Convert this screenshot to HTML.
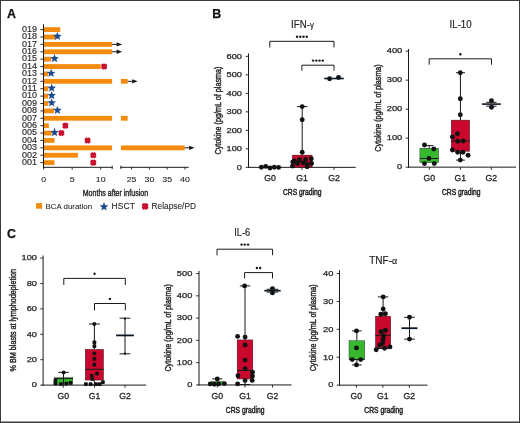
<!DOCTYPE html>
<html><head><meta charset="utf-8"><style>
html,body{margin:0;padding:0;background:#fff;}
svg{display:block;font-family:"Liberation Sans",sans-serif;filter:blur(0.3px);}
</style></head><body>
<svg width="520" height="423" viewBox="0 0 520 423">
<rect x="0" y="0" width="520" height="423" fill="#fff"/>
<text x="7.10" y="17.80" font-size="12.4" text-anchor="start" font-weight="bold" fill="#111" stroke="#111" stroke-width="0.25" >A</text>
<text x="37.00" y="31.90" font-size="8.2" text-anchor="end" font-weight="normal" fill="#2a2a2a" stroke="#2a2a2a" stroke-width="0.15" textLength="15" lengthAdjust="spacingAndGlyphs" >019</text>
<line x1="40.30" y1="29.60" x2="43.50" y2="29.60" stroke="#1a1a1a" stroke-width="0.9"/>
<rect x="43.9" y="27.20" width="16.33" height="4.8" fill="#f48b0c"/>
<text x="37.00" y="39.29" font-size="8.2" text-anchor="end" font-weight="normal" fill="#2a2a2a" stroke="#2a2a2a" stroke-width="0.15" textLength="15" lengthAdjust="spacingAndGlyphs" >018</text>
<line x1="40.30" y1="36.99" x2="43.50" y2="36.99" stroke="#1a1a1a" stroke-width="0.9"/>
<rect x="43.9" y="34.59" width="11.77" height="4.8" fill="#f48b0c"/>
<polygon points="57.38,31.79 58.53,34.81 61.75,34.97 59.23,36.99 60.08,40.11 57.38,38.34 54.68,40.11 55.53,36.99 53.01,34.97 56.23,34.81" fill="#1b4a8e"/>
<text x="37.00" y="46.68" font-size="8.2" text-anchor="end" font-weight="normal" fill="#2a2a2a" stroke="#2a2a2a" stroke-width="0.15" textLength="15" lengthAdjust="spacingAndGlyphs" >017</text>
<line x1="40.30" y1="44.38" x2="43.50" y2="44.38" stroke="#1a1a1a" stroke-width="0.9"/>
<rect x="43.9" y="41.98" width="68.20" height="4.8" fill="#f48b0c"/>
<line x1="112.10" y1="44.38" x2="118.10" y2="44.38" stroke="#1a1a1a" stroke-width="1"/>
<polygon points="116.60,42.18 122.10,44.38 116.60,46.58" fill="#1a1a1a"/>
<text x="37.00" y="54.07" font-size="8.2" text-anchor="end" font-weight="normal" fill="#2a2a2a" stroke="#2a2a2a" stroke-width="0.15" textLength="15" lengthAdjust="spacingAndGlyphs" >016</text>
<line x1="40.30" y1="51.77" x2="43.50" y2="51.77" stroke="#1a1a1a" stroke-width="0.9"/>
<rect x="43.9" y="49.37" width="68.20" height="4.8" fill="#f48b0c"/>
<line x1="112.10" y1="51.77" x2="118.10" y2="51.77" stroke="#1a1a1a" stroke-width="1"/>
<polygon points="116.60,49.57 122.10,51.77 116.60,53.97" fill="#1a1a1a"/>
<text x="37.00" y="61.46" font-size="8.2" text-anchor="end" font-weight="normal" fill="#2a2a2a" stroke="#2a2a2a" stroke-width="0.15" textLength="15" lengthAdjust="spacingAndGlyphs" >015</text>
<line x1="40.30" y1="59.16" x2="43.50" y2="59.16" stroke="#1a1a1a" stroke-width="0.9"/>
<rect x="43.9" y="56.76" width="7.21" height="4.8" fill="#f48b0c"/>
<polygon points="54.53,53.96 55.68,56.98 58.90,57.14 56.38,59.16 57.23,62.28 54.53,60.51 51.83,62.28 52.68,59.16 50.16,57.14 53.38,56.98" fill="#1b4a8e"/>
<text x="37.00" y="68.85" font-size="8.2" text-anchor="end" font-weight="normal" fill="#2a2a2a" stroke="#2a2a2a" stroke-width="0.15" textLength="15" lengthAdjust="spacingAndGlyphs" >014</text>
<line x1="40.30" y1="66.55" x2="43.50" y2="66.55" stroke="#1a1a1a" stroke-width="0.9"/>
<rect x="43.9" y="64.15" width="56.80" height="4.8" fill="#f48b0c"/>
<g transform="translate(104.12,66.55) rotate(45)"><rect x="-3.22" y="-1.66" width="6.44" height="3.31" rx="0.9" fill="#c8102e"/><rect x="-1.66" y="-3.22" width="3.31" height="6.44" rx="0.9" fill="#c8102e"/></g>
<text x="37.00" y="76.24" font-size="8.2" text-anchor="end" font-weight="normal" fill="#2a2a2a" stroke="#2a2a2a" stroke-width="0.15" textLength="15" lengthAdjust="spacingAndGlyphs" >013</text>
<line x1="40.30" y1="73.94" x2="43.50" y2="73.94" stroke="#1a1a1a" stroke-width="0.9"/>
<rect x="43.9" y="71.54" width="4.36" height="4.8" fill="#f48b0c"/>
<polygon points="51.11,68.74 52.26,71.76 55.48,71.92 52.96,73.94 53.81,77.06 51.11,75.29 48.41,77.06 49.26,73.94 46.74,71.92 49.96,71.76" fill="#1b4a8e"/>
<text x="37.00" y="83.63" font-size="8.2" text-anchor="end" font-weight="normal" fill="#2a2a2a" stroke="#2a2a2a" stroke-width="0.15" textLength="15" lengthAdjust="spacingAndGlyphs" >012</text>
<line x1="40.30" y1="81.33" x2="43.50" y2="81.33" stroke="#1a1a1a" stroke-width="0.9"/>
<rect x="43.9" y="78.93" width="68.20" height="4.8" fill="#f48b0c"/>
<rect x="120.92" y="78.93" width="6.76" height="4.8" fill="#f48b0c"/>
<line x1="127.68" y1="81.33" x2="133.68" y2="81.33" stroke="#1a1a1a" stroke-width="1"/>
<polygon points="132.18,79.13 137.68,81.33 132.18,83.53" fill="#1a1a1a"/>
<text x="37.00" y="91.02" font-size="8.2" text-anchor="end" font-weight="normal" fill="#2a2a2a" stroke="#2a2a2a" stroke-width="0.15" textLength="15" lengthAdjust="spacingAndGlyphs" >011</text>
<line x1="40.30" y1="88.72" x2="43.50" y2="88.72" stroke="#1a1a1a" stroke-width="0.9"/>
<rect x="43.9" y="86.32" width="4.36" height="4.8" fill="#f48b0c"/>
<polygon points="51.68,83.52 52.83,86.54 56.05,86.70 53.53,88.72 54.38,91.84 51.68,90.07 48.98,91.84 49.83,88.72 47.31,86.70 50.53,86.54" fill="#1b4a8e"/>
<text x="37.00" y="98.41" font-size="8.2" text-anchor="end" font-weight="normal" fill="#2a2a2a" stroke="#2a2a2a" stroke-width="0.15" textLength="15" lengthAdjust="spacingAndGlyphs" >010</text>
<line x1="40.30" y1="96.11" x2="43.50" y2="96.11" stroke="#1a1a1a" stroke-width="0.9"/>
<rect x="43.9" y="93.71" width="4.36" height="4.8" fill="#f48b0c"/>
<polygon points="51.68,90.91 52.83,93.93 56.05,94.09 53.53,96.11 54.38,99.23 51.68,97.46 48.98,99.23 49.83,96.11 47.31,94.09 50.53,93.93" fill="#1b4a8e"/>
<text x="37.00" y="105.80" font-size="8.2" text-anchor="end" font-weight="normal" fill="#2a2a2a" stroke="#2a2a2a" stroke-width="0.15" textLength="15" lengthAdjust="spacingAndGlyphs" >009</text>
<line x1="40.30" y1="103.50" x2="43.50" y2="103.50" stroke="#1a1a1a" stroke-width="0.9"/>
<rect x="43.9" y="101.10" width="4.36" height="4.8" fill="#f48b0c"/>
<polygon points="51.68,98.30 52.83,101.32 56.05,101.48 53.53,103.50 54.38,106.62 51.68,104.85 48.98,106.62 49.83,103.50 47.31,101.48 50.53,101.32" fill="#1b4a8e"/>
<text x="37.00" y="113.19" font-size="8.2" text-anchor="end" font-weight="normal" fill="#2a2a2a" stroke="#2a2a2a" stroke-width="0.15" textLength="15" lengthAdjust="spacingAndGlyphs" >008</text>
<line x1="40.30" y1="110.89" x2="43.50" y2="110.89" stroke="#1a1a1a" stroke-width="0.9"/>
<rect x="43.9" y="108.49" width="10.06" height="4.8" fill="#f48b0c"/>
<polygon points="57.38,105.69 58.53,108.71 61.75,108.87 59.23,110.89 60.08,114.01 57.38,112.24 54.68,114.01 55.53,110.89 53.01,108.87 56.23,108.71" fill="#1b4a8e"/>
<text x="37.00" y="120.58" font-size="8.2" text-anchor="end" font-weight="normal" fill="#2a2a2a" stroke="#2a2a2a" stroke-width="0.15" textLength="15" lengthAdjust="spacingAndGlyphs" >007</text>
<line x1="40.30" y1="118.28" x2="43.50" y2="118.28" stroke="#1a1a1a" stroke-width="0.9"/>
<rect x="43.9" y="115.88" width="68.20" height="4.8" fill="#f48b0c"/>
<rect x="120.92" y="115.88" width="6.76" height="4.8" fill="#f48b0c"/>
<text x="37.00" y="127.97" font-size="8.2" text-anchor="end" font-weight="normal" fill="#2a2a2a" stroke="#2a2a2a" stroke-width="0.15" textLength="15" lengthAdjust="spacingAndGlyphs" >006</text>
<line x1="40.30" y1="125.67" x2="43.50" y2="125.67" stroke="#1a1a1a" stroke-width="0.9"/>
<rect x="43.9" y="123.27" width="4.93" height="4.8" fill="#f48b0c"/>
<g transform="translate(65.36,125.67) rotate(45)"><rect x="-3.22" y="-1.66" width="6.44" height="3.31" rx="0.9" fill="#c8102e"/><rect x="-1.66" y="-3.22" width="3.31" height="6.44" rx="0.9" fill="#c8102e"/></g>
<text x="37.00" y="135.36" font-size="8.2" text-anchor="end" font-weight="normal" fill="#2a2a2a" stroke="#2a2a2a" stroke-width="0.15" textLength="15" lengthAdjust="spacingAndGlyphs" >005</text>
<line x1="40.30" y1="133.06" x2="43.50" y2="133.06" stroke="#1a1a1a" stroke-width="0.9"/>
<rect x="43.9" y="130.66" width="7.78" height="4.8" fill="#f48b0c"/>
<polygon points="54.53,127.86 55.68,130.88 58.90,131.04 56.38,133.06 57.23,136.18 54.53,134.41 51.83,136.18 52.68,133.06 50.16,131.04 53.38,130.88" fill="#1b4a8e"/>
<g transform="translate(61.37,133.06) rotate(45)"><rect x="-3.22" y="-1.66" width="6.44" height="3.31" rx="0.9" fill="#c8102e"/><rect x="-1.66" y="-3.22" width="3.31" height="6.44" rx="0.9" fill="#c8102e"/></g>
<text x="37.00" y="142.75" font-size="8.2" text-anchor="end" font-weight="normal" fill="#2a2a2a" stroke="#2a2a2a" stroke-width="0.15" textLength="15" lengthAdjust="spacingAndGlyphs" >004</text>
<line x1="40.30" y1="140.45" x2="43.50" y2="140.45" stroke="#1a1a1a" stroke-width="0.9"/>
<rect x="43.9" y="138.05" width="10.63" height="4.8" fill="#f48b0c"/>
<g transform="translate(87.59,140.45) rotate(45)"><rect x="-3.22" y="-1.66" width="6.44" height="3.31" rx="0.9" fill="#c8102e"/><rect x="-1.66" y="-3.22" width="3.31" height="6.44" rx="0.9" fill="#c8102e"/></g>
<text x="37.00" y="150.14" font-size="8.2" text-anchor="end" font-weight="normal" fill="#2a2a2a" stroke="#2a2a2a" stroke-width="0.15" textLength="15" lengthAdjust="spacingAndGlyphs" >003</text>
<line x1="40.30" y1="147.84" x2="43.50" y2="147.84" stroke="#1a1a1a" stroke-width="0.9"/>
<rect x="43.9" y="145.44" width="68.20" height="4.8" fill="#f48b0c"/>
<rect x="120.92" y="145.44" width="63.72" height="4.8" fill="#f48b0c"/>
<line x1="184.64" y1="147.84" x2="190.64" y2="147.84" stroke="#1a1a1a" stroke-width="1"/>
<polygon points="189.14,145.64 194.64,147.84 189.14,150.04" fill="#1a1a1a"/>
<text x="37.00" y="157.53" font-size="8.2" text-anchor="end" font-weight="normal" fill="#2a2a2a" stroke="#2a2a2a" stroke-width="0.15" textLength="15" lengthAdjust="spacingAndGlyphs" >002</text>
<line x1="40.30" y1="155.23" x2="43.50" y2="155.23" stroke="#1a1a1a" stroke-width="0.9"/>
<rect x="43.9" y="152.83" width="34.00" height="4.8" fill="#f48b0c"/>
<g transform="translate(93.29,155.23) rotate(45)"><rect x="-3.22" y="-1.66" width="6.44" height="3.31" rx="0.9" fill="#c8102e"/><rect x="-1.66" y="-3.22" width="3.31" height="6.44" rx="0.9" fill="#c8102e"/></g>
<text x="37.00" y="164.92" font-size="8.2" text-anchor="end" font-weight="normal" fill="#2a2a2a" stroke="#2a2a2a" stroke-width="0.15" textLength="15" lengthAdjust="spacingAndGlyphs" >001</text>
<line x1="40.30" y1="162.62" x2="43.50" y2="162.62" stroke="#1a1a1a" stroke-width="0.9"/>
<rect x="43.9" y="160.22" width="10.63" height="4.8" fill="#f48b0c"/>
<g transform="translate(93.29,162.62) rotate(45)"><rect x="-3.22" y="-1.66" width="6.44" height="3.31" rx="0.9" fill="#c8102e"/><rect x="-1.66" y="-3.22" width="3.31" height="6.44" rx="0.9" fill="#c8102e"/></g>
<line x1="43.50" y1="24.20" x2="43.50" y2="167.70" stroke="#1a1a1a" stroke-width="1"/>
<line x1="43.00" y1="167.30" x2="112.60" y2="167.30" stroke="#1a1a1a" stroke-width="1"/>
<line x1="120.40" y1="167.30" x2="188.70" y2="167.30" stroke="#1a1a1a" stroke-width="1"/>
<line x1="112.20" y1="165.70" x2="112.20" y2="169.10" stroke="#1a1a1a" stroke-width="0.9"/>
<line x1="120.90" y1="165.70" x2="120.90" y2="169.10" stroke="#1a1a1a" stroke-width="0.9"/>
<line x1="43.70" y1="167.30" x2="43.70" y2="169.60" stroke="#1a1a1a" stroke-width="0.9"/>
<text x="43.70" y="182.00" font-size="7.2" text-anchor="middle" font-weight="normal" fill="#262626" stroke="#262626" stroke-width="0.1" textLength="4.9" lengthAdjust="spacingAndGlyphs" >0</text>
<line x1="72.20" y1="167.30" x2="72.20" y2="169.60" stroke="#1a1a1a" stroke-width="0.9"/>
<text x="72.20" y="182.00" font-size="7.2" text-anchor="middle" font-weight="normal" fill="#262626" stroke="#262626" stroke-width="0.1" textLength="4.9" lengthAdjust="spacingAndGlyphs" >5</text>
<line x1="100.70" y1="167.30" x2="100.70" y2="169.60" stroke="#1a1a1a" stroke-width="0.9"/>
<text x="100.70" y="182.00" font-size="7.2" text-anchor="middle" font-weight="normal" fill="#262626" stroke="#262626" stroke-width="0.1" textLength="9.8" lengthAdjust="spacingAndGlyphs" >10</text>
<line x1="131.60" y1="167.30" x2="131.60" y2="169.60" stroke="#1a1a1a" stroke-width="0.9"/>
<text x="131.60" y="182.00" font-size="7.2" text-anchor="middle" font-weight="normal" fill="#262626" stroke="#262626" stroke-width="0.1" textLength="9.8" lengthAdjust="spacingAndGlyphs" >25</text>
<line x1="149.40" y1="167.30" x2="149.40" y2="169.60" stroke="#1a1a1a" stroke-width="0.9"/>
<text x="149.40" y="182.00" font-size="7.2" text-anchor="middle" font-weight="normal" fill="#262626" stroke="#262626" stroke-width="0.1" textLength="9.8" lengthAdjust="spacingAndGlyphs" >30</text>
<line x1="167.20" y1="167.30" x2="167.20" y2="169.60" stroke="#1a1a1a" stroke-width="0.9"/>
<text x="167.20" y="182.00" font-size="7.2" text-anchor="middle" font-weight="normal" fill="#262626" stroke="#262626" stroke-width="0.1" textLength="9.8" lengthAdjust="spacingAndGlyphs" >35</text>
<line x1="185.00" y1="167.30" x2="185.00" y2="169.60" stroke="#1a1a1a" stroke-width="0.9"/>
<text x="185.00" y="182.00" font-size="7.2" text-anchor="middle" font-weight="normal" fill="#262626" stroke="#262626" stroke-width="0.1" textLength="9.8" lengthAdjust="spacingAndGlyphs" >40</text>
<text x="115.40" y="195.60" font-size="9.0" text-anchor="middle" font-weight="normal" fill="#262626" stroke="#262626" stroke-width="0.4" textLength="65.3" lengthAdjust="spacingAndGlyphs" >Months after infusion</text>
<rect x="36.1" y="203.1" width="6" height="5.6" fill="#f48b0c"/>
<text x="45.60" y="208.90" font-size="8.0" text-anchor="start" font-weight="normal" fill="#262626" stroke="#262626" stroke-width="0.08" textLength="46.5" lengthAdjust="spacingAndGlyphs" >BCA duration</text>
<polygon points="104.00,202.10 105.15,205.22 108.47,205.35 105.85,207.40 106.76,210.60 104.00,208.75 101.24,210.60 102.15,207.40 99.53,205.35 102.85,205.22" fill="#1b4a8e"/>
<text x="111.60" y="208.90" font-size="8.2" text-anchor="start" font-weight="normal" fill="#262626" stroke="#262626" stroke-width="0.08" textLength="23.3" lengthAdjust="spacingAndGlyphs" >HSCT</text>
<g transform="translate(145.10,206.40) rotate(45)"><rect x="-3.50" y="-1.80" width="7.00" height="3.60" rx="0.9" fill="#c8102e"/><rect x="-1.80" y="-3.50" width="3.60" height="7.00" rx="0.9" fill="#c8102e"/></g>
<text x="151.60" y="208.90" font-size="8.2" text-anchor="start" font-weight="normal" fill="#262626" stroke="#262626" stroke-width="0.08" textLength="44.4" lengthAdjust="spacingAndGlyphs" >Relapse/PD</text>
<text x="212.20" y="17.80" font-size="12.4" text-anchor="start" font-weight="bold" fill="#111" stroke="#111" stroke-width="0.25" >B</text>
<text x="7.00" y="237.70" font-size="12.4" text-anchor="start" font-weight="bold" fill="#111" stroke="#111" stroke-width="0.25" >C</text>
<line x1="248.50" y1="53.50" x2="248.50" y2="167.85" stroke="#1a1a1a" stroke-width="1"/>
<line x1="245.70" y1="167.35" x2="248.50" y2="167.35" stroke="#1a1a1a" stroke-width="0.9"/>
<text x="242.00" y="169.65" font-size="7.1" text-anchor="end" font-weight="normal" fill="#262626" stroke="#262626" stroke-width="0.25" textLength="5.15" lengthAdjust="spacingAndGlyphs" >0</text>
<line x1="245.70" y1="148.85" x2="248.50" y2="148.85" stroke="#1a1a1a" stroke-width="0.9"/>
<text x="242.00" y="151.15" font-size="7.1" text-anchor="end" font-weight="normal" fill="#262626" stroke="#262626" stroke-width="0.25" textLength="15.450000000000001" lengthAdjust="spacingAndGlyphs" >100</text>
<line x1="245.70" y1="130.35" x2="248.50" y2="130.35" stroke="#1a1a1a" stroke-width="0.9"/>
<text x="242.00" y="132.65" font-size="7.1" text-anchor="end" font-weight="normal" fill="#262626" stroke="#262626" stroke-width="0.25" textLength="15.450000000000001" lengthAdjust="spacingAndGlyphs" >200</text>
<line x1="245.70" y1="111.85" x2="248.50" y2="111.85" stroke="#1a1a1a" stroke-width="0.9"/>
<text x="242.00" y="114.15" font-size="7.1" text-anchor="end" font-weight="normal" fill="#262626" stroke="#262626" stroke-width="0.25" textLength="15.450000000000001" lengthAdjust="spacingAndGlyphs" >300</text>
<line x1="245.70" y1="93.35" x2="248.50" y2="93.35" stroke="#1a1a1a" stroke-width="0.9"/>
<text x="242.00" y="95.65" font-size="7.1" text-anchor="end" font-weight="normal" fill="#262626" stroke="#262626" stroke-width="0.25" textLength="15.450000000000001" lengthAdjust="spacingAndGlyphs" >400</text>
<line x1="245.70" y1="74.85" x2="248.50" y2="74.85" stroke="#1a1a1a" stroke-width="0.9"/>
<text x="242.00" y="77.15" font-size="7.1" text-anchor="end" font-weight="normal" fill="#262626" stroke="#262626" stroke-width="0.25" textLength="15.450000000000001" lengthAdjust="spacingAndGlyphs" >500</text>
<line x1="245.70" y1="56.35" x2="248.50" y2="56.35" stroke="#1a1a1a" stroke-width="0.9"/>
<text x="242.00" y="58.65" font-size="7.1" text-anchor="end" font-weight="normal" fill="#262626" stroke="#262626" stroke-width="0.25" textLength="15.450000000000001" lengthAdjust="spacingAndGlyphs" >600</text>
<line x1="248.00" y1="167.35" x2="355.80" y2="167.35" stroke="#1a1a1a" stroke-width="1"/>
<line x1="270.00" y1="167.35" x2="270.00" y2="169.95" stroke="#1a1a1a" stroke-width="0.9"/>
<text x="270.00" y="181.35" font-size="8.3" text-anchor="middle" font-weight="normal" fill="#262626" stroke="#262626" stroke-width="0.3" textLength="11.6" lengthAdjust="spacingAndGlyphs" >G0</text>
<line x1="302.00" y1="167.35" x2="302.00" y2="169.95" stroke="#1a1a1a" stroke-width="0.9"/>
<text x="302.00" y="181.35" font-size="8.3" text-anchor="middle" font-weight="normal" fill="#262626" stroke="#262626" stroke-width="0.3" textLength="11.6" lengthAdjust="spacingAndGlyphs" >G1</text>
<line x1="334.00" y1="167.35" x2="334.00" y2="169.95" stroke="#1a1a1a" stroke-width="0.9"/>
<text x="334.00" y="181.35" font-size="8.3" text-anchor="middle" font-weight="normal" fill="#262626" stroke="#262626" stroke-width="0.3" textLength="11.6" lengthAdjust="spacingAndGlyphs" >G2</text>
<text x="302.20" y="194.90" font-size="8.9" text-anchor="middle" font-weight="normal" fill="#262626" stroke="#262626" stroke-width="0.5" textLength="38.6" lengthAdjust="spacingAndGlyphs" >CRS grading</text>
<text transform="translate(221.30,110.50) rotate(-90)" x="0" y="0" font-size="8.6" text-anchor="middle" fill="#262626" stroke="#262626" stroke-width="0.4" textLength="88" lengthAdjust="spacingAndGlyphs">Cytokine (pg/mL of plasma)</text>
<text x="302.50" y="27.80" font-size="10.1" text-anchor="middle" font-weight="normal" fill="#262626" stroke="#262626" stroke-width="0.18" textLength="22.8" lengthAdjust="spacingAndGlyphs" >IFN-<tspan font-size="8.3" dy="0.3">&#947;</tspan></text>
<polyline points="269.80,47.50 269.80,41.30 334.00,41.30 334.00,47.50" fill="none" stroke="#1a1a1a" stroke-width="1"/>
<circle cx="297.02" cy="36.70" r="1.2" fill="#1a1a1a"/>
<circle cx="300.27" cy="36.70" r="1.2" fill="#1a1a1a"/>
<circle cx="303.52" cy="36.70" r="1.2" fill="#1a1a1a"/>
<circle cx="306.77" cy="36.70" r="1.2" fill="#1a1a1a"/>
<polyline points="301.90,70.60 301.90,65.20 334.00,65.20 334.00,70.60" fill="none" stroke="#1a1a1a" stroke-width="1"/>
<circle cx="313.07" cy="60.60" r="1.2" fill="#1a1a1a"/>
<circle cx="316.32" cy="60.60" r="1.2" fill="#1a1a1a"/>
<circle cx="319.57" cy="60.60" r="1.2" fill="#1a1a1a"/>
<circle cx="322.82" cy="60.60" r="1.2" fill="#1a1a1a"/>
<circle cx="261.40" cy="167.30" r="2.45" fill="#111"/>
<circle cx="265.70" cy="166.40" r="2.45" fill="#111"/>
<circle cx="270.00" cy="168.00" r="2.45" fill="#111"/>
<circle cx="274.30" cy="167.30" r="2.45" fill="#111"/>
<circle cx="278.60" cy="167.40" r="2.45" fill="#111"/>
<line x1="302.20" y1="106.60" x2="302.20" y2="155.10" stroke="#1a1a1a" stroke-width="1"/>
<line x1="296.90" y1="106.60" x2="307.50" y2="106.60" stroke="#1a1a1a" stroke-width="1"/>
<rect x="292.30" y="155.10" width="19.80" height="12.10" fill="#ca072c" stroke="#1a1a1a" stroke-width="0.4"/>
<circle cx="302.20" cy="106.60" r="2.45" fill="#111"/>
<circle cx="302.20" cy="119.80" r="2.45" fill="#111"/>
<circle cx="302.20" cy="152.30" r="2.45" fill="#111"/>
<circle cx="292.80" cy="161.90" r="2.45" fill="#111"/>
<circle cx="292.50" cy="166.10" r="2.45" fill="#111"/>
<circle cx="299.50" cy="159.70" r="2.45" fill="#111"/>
<circle cx="294.40" cy="161.00" r="2.45" fill="#111"/>
<circle cx="307.10" cy="164.10" r="2.45" fill="#111"/>
<circle cx="311.30" cy="158.70" r="2.45" fill="#111"/>
<circle cx="311.60" cy="163.50" r="2.45" fill="#111"/>
<circle cx="307.10" cy="166.70" r="2.45" fill="#111"/>
<circle cx="297.60" cy="163.50" r="2.45" fill="#111"/>
<circle cx="303.30" cy="162.90" r="2.45" fill="#111"/>
<circle cx="305.50" cy="159.50" r="2.45" fill="#111"/>
<circle cx="329.60" cy="78.80" r="2.45" fill="#111"/>
<circle cx="338.50" cy="77.50" r="2.45" fill="#111"/>
<line x1="324.20" y1="78.50" x2="343.80" y2="78.50" stroke="#0d1826" stroke-width="1.6"/>
<line x1="408.50" y1="49.00" x2="408.50" y2="167.65" stroke="#1a1a1a" stroke-width="1"/>
<line x1="405.70" y1="167.15" x2="408.50" y2="167.15" stroke="#1a1a1a" stroke-width="0.9"/>
<text x="402.20" y="169.45" font-size="7.1" text-anchor="end" font-weight="normal" fill="#262626" stroke="#262626" stroke-width="0.25" textLength="5.15" lengthAdjust="spacingAndGlyphs" >0</text>
<line x1="405.70" y1="138.15" x2="408.50" y2="138.15" stroke="#1a1a1a" stroke-width="0.9"/>
<text x="402.20" y="140.45" font-size="7.1" text-anchor="end" font-weight="normal" fill="#262626" stroke="#262626" stroke-width="0.25" textLength="15.450000000000001" lengthAdjust="spacingAndGlyphs" >100</text>
<line x1="405.70" y1="109.15" x2="408.50" y2="109.15" stroke="#1a1a1a" stroke-width="0.9"/>
<text x="402.20" y="111.45" font-size="7.1" text-anchor="end" font-weight="normal" fill="#262626" stroke="#262626" stroke-width="0.25" textLength="15.450000000000001" lengthAdjust="spacingAndGlyphs" >200</text>
<line x1="405.70" y1="80.15" x2="408.50" y2="80.15" stroke="#1a1a1a" stroke-width="0.9"/>
<text x="402.20" y="82.45" font-size="7.1" text-anchor="end" font-weight="normal" fill="#262626" stroke="#262626" stroke-width="0.25" textLength="15.450000000000001" lengthAdjust="spacingAndGlyphs" >300</text>
<line x1="405.70" y1="51.15" x2="408.50" y2="51.15" stroke="#1a1a1a" stroke-width="0.9"/>
<text x="402.20" y="53.45" font-size="7.1" text-anchor="end" font-weight="normal" fill="#262626" stroke="#262626" stroke-width="0.25" textLength="15.450000000000001" lengthAdjust="spacingAndGlyphs" >400</text>
<line x1="408.00" y1="167.15" x2="516.00" y2="167.15" stroke="#1a1a1a" stroke-width="1"/>
<line x1="429.30" y1="167.15" x2="429.30" y2="169.75" stroke="#1a1a1a" stroke-width="0.9"/>
<text x="429.30" y="181.15" font-size="8.3" text-anchor="middle" font-weight="normal" fill="#262626" stroke="#262626" stroke-width="0.3" textLength="11.6" lengthAdjust="spacingAndGlyphs" >G0</text>
<line x1="460.40" y1="167.15" x2="460.40" y2="169.75" stroke="#1a1a1a" stroke-width="0.9"/>
<text x="460.40" y="181.15" font-size="8.3" text-anchor="middle" font-weight="normal" fill="#262626" stroke="#262626" stroke-width="0.3" textLength="11.6" lengthAdjust="spacingAndGlyphs" >G1</text>
<line x1="491.30" y1="167.15" x2="491.30" y2="169.75" stroke="#1a1a1a" stroke-width="0.9"/>
<text x="491.30" y="181.15" font-size="8.3" text-anchor="middle" font-weight="normal" fill="#262626" stroke="#262626" stroke-width="0.3" textLength="11.6" lengthAdjust="spacingAndGlyphs" >G2</text>
<text x="461.20" y="195.00" font-size="8.9" text-anchor="middle" font-weight="normal" fill="#262626" stroke="#262626" stroke-width="0.5" textLength="38.6" lengthAdjust="spacingAndGlyphs" >CRS grading</text>
<text transform="translate(380.70,108.00) rotate(-90)" x="0" y="0" font-size="8.6" text-anchor="middle" fill="#262626" stroke="#262626" stroke-width="0.4" textLength="87.5" lengthAdjust="spacingAndGlyphs">Cytokine (pg/mL of plasma)</text>
<text x="460.60" y="27.90" font-size="10.1" text-anchor="middle" font-weight="normal" fill="#262626" stroke="#262626" stroke-width="0.18" textLength="22.0" lengthAdjust="spacingAndGlyphs" >IL-10</text>
<polyline points="429.20,64.70 429.20,58.80 491.50,58.80 491.50,64.70" fill="none" stroke="#1a1a1a" stroke-width="1"/>
<circle cx="460.35" cy="54.20" r="1.2" fill="#1a1a1a"/>
<line x1="429.25" y1="145.60" x2="429.25" y2="148.20" stroke="#1a1a1a" stroke-width="1"/>
<line x1="425.25" y1="145.60" x2="433.25" y2="145.60" stroke="#1a1a1a" stroke-width="1"/>
<rect x="419.90" y="148.20" width="18.70" height="14.40" fill="#36b72e" stroke="#1a1a1a" stroke-width="0.4"/>
<line x1="419.90" y1="158.50" x2="438.60" y2="158.50" stroke="#1a1a1a" stroke-width="1"/>
<circle cx="424.50" cy="145.00" r="2.45" fill="#111"/>
<circle cx="433.80" cy="149.00" r="2.45" fill="#111"/>
<circle cx="429.00" cy="158.50" r="2.45" fill="#111"/>
<circle cx="424.50" cy="163.60" r="2.45" fill="#111"/>
<circle cx="434.30" cy="163.60" r="2.45" fill="#111"/>
<line x1="460.45" y1="72.70" x2="460.45" y2="120.10" stroke="#1a1a1a" stroke-width="1"/>
<line x1="455.95" y1="72.70" x2="464.95" y2="72.70" stroke="#1a1a1a" stroke-width="1"/>
<line x1="460.45" y1="151.40" x2="460.45" y2="160.10" stroke="#1a1a1a" stroke-width="1"/>
<line x1="455.95" y1="160.10" x2="464.95" y2="160.10" stroke="#1a1a1a" stroke-width="1"/>
<rect x="451.20" y="120.10" width="18.50" height="31.30" fill="#ca072c" stroke="#1a1a1a" stroke-width="0.4"/>
<line x1="451.20" y1="141.00" x2="469.70" y2="141.00" stroke="#1a1a1a" stroke-width="1"/>
<circle cx="460.30" cy="72.70" r="2.45" fill="#111"/>
<circle cx="460.30" cy="98.70" r="2.45" fill="#111"/>
<circle cx="460.30" cy="114.80" r="2.45" fill="#111"/>
<circle cx="457.40" cy="133.80" r="2.45" fill="#111"/>
<circle cx="452.40" cy="136.90" r="2.45" fill="#111"/>
<circle cx="457.70" cy="141.20" r="2.45" fill="#111"/>
<circle cx="463.20" cy="141.00" r="2.45" fill="#111"/>
<circle cx="452.40" cy="150.00" r="2.45" fill="#111"/>
<circle cx="457.70" cy="152.30" r="2.45" fill="#111"/>
<circle cx="462.90" cy="152.30" r="2.45" fill="#111"/>
<circle cx="468.10" cy="155.30" r="2.45" fill="#111"/>
<circle cx="460.30" cy="160.10" r="2.45" fill="#111"/>
<circle cx="491.50" cy="100.80" r="2.45" fill="#111"/>
<circle cx="491.50" cy="107.30" r="2.45" fill="#111"/>
<line x1="481.90" y1="104.10" x2="500.80" y2="104.10" stroke="#0d1826" stroke-width="1.6"/>
<line x1="486.20" y1="102.30" x2="496.50" y2="102.30" stroke="#1a1a1a" stroke-width="1"/>
<line x1="486.20" y1="106.20" x2="496.50" y2="106.20" stroke="#1a1a1a" stroke-width="1"/>
<line x1="43.10" y1="255.50" x2="43.10" y2="385.60" stroke="#1a1a1a" stroke-width="1"/>
<line x1="40.30" y1="385.10" x2="43.10" y2="385.10" stroke="#1a1a1a" stroke-width="0.9"/>
<text x="37.00" y="387.40" font-size="7.1" text-anchor="end" font-weight="normal" fill="#262626" stroke="#262626" stroke-width="0.25" textLength="5.15" lengthAdjust="spacingAndGlyphs" >0</text>
<line x1="40.30" y1="359.70" x2="43.10" y2="359.70" stroke="#1a1a1a" stroke-width="0.9"/>
<text x="37.00" y="362.00" font-size="7.1" text-anchor="end" font-weight="normal" fill="#262626" stroke="#262626" stroke-width="0.25" textLength="10.3" lengthAdjust="spacingAndGlyphs" >20</text>
<line x1="40.30" y1="334.30" x2="43.10" y2="334.30" stroke="#1a1a1a" stroke-width="0.9"/>
<text x="37.00" y="336.60" font-size="7.1" text-anchor="end" font-weight="normal" fill="#262626" stroke="#262626" stroke-width="0.25" textLength="10.3" lengthAdjust="spacingAndGlyphs" >40</text>
<line x1="40.30" y1="308.90" x2="43.10" y2="308.90" stroke="#1a1a1a" stroke-width="0.9"/>
<text x="37.00" y="311.20" font-size="7.1" text-anchor="end" font-weight="normal" fill="#262626" stroke="#262626" stroke-width="0.25" textLength="10.3" lengthAdjust="spacingAndGlyphs" >60</text>
<line x1="40.30" y1="283.50" x2="43.10" y2="283.50" stroke="#1a1a1a" stroke-width="0.9"/>
<text x="37.00" y="285.80" font-size="7.1" text-anchor="end" font-weight="normal" fill="#262626" stroke="#262626" stroke-width="0.25" textLength="10.3" lengthAdjust="spacingAndGlyphs" >80</text>
<line x1="40.30" y1="258.10" x2="43.10" y2="258.10" stroke="#1a1a1a" stroke-width="0.9"/>
<text x="37.00" y="260.40" font-size="7.1" text-anchor="end" font-weight="normal" fill="#262626" stroke="#262626" stroke-width="0.25" textLength="15.450000000000001" lengthAdjust="spacingAndGlyphs" >100</text>
<line x1="42.60" y1="385.10" x2="146.20" y2="385.10" stroke="#1a1a1a" stroke-width="1"/>
<line x1="63.30" y1="385.10" x2="63.30" y2="387.70" stroke="#1a1a1a" stroke-width="0.9"/>
<text x="63.30" y="399.10" font-size="8.3" text-anchor="middle" font-weight="normal" fill="#262626" stroke="#262626" stroke-width="0.3" textLength="11.6" lengthAdjust="spacingAndGlyphs" >G0</text>
<line x1="94.50" y1="385.10" x2="94.50" y2="387.70" stroke="#1a1a1a" stroke-width="0.9"/>
<text x="94.50" y="399.10" font-size="8.3" text-anchor="middle" font-weight="normal" fill="#262626" stroke="#262626" stroke-width="0.3" textLength="11.6" lengthAdjust="spacingAndGlyphs" >G1</text>
<line x1="125.00" y1="385.10" x2="125.00" y2="387.70" stroke="#1a1a1a" stroke-width="0.9"/>
<text x="125.00" y="399.10" font-size="8.3" text-anchor="middle" font-weight="normal" fill="#262626" stroke="#262626" stroke-width="0.3" textLength="11.6" lengthAdjust="spacingAndGlyphs" >G2</text>
<text transform="translate(15.90,320.20) rotate(-90)" x="0" y="0" font-size="8.6" text-anchor="middle" fill="#262626" stroke="#262626" stroke-width="0.4" textLength="102.4" lengthAdjust="spacingAndGlyphs">% BM blasts at lymphodepletion</text>
<polyline points="63.80,285.00 63.80,278.40 125.30,278.40 125.30,285.00" fill="none" stroke="#1a1a1a" stroke-width="1"/>
<circle cx="94.55" cy="273.80" r="1.2" fill="#1a1a1a"/>
<polyline points="94.50,310.40 94.50,303.50 125.30,303.50 125.30,310.40" fill="none" stroke="#1a1a1a" stroke-width="1"/>
<circle cx="109.90" cy="298.90" r="1.2" fill="#1a1a1a"/>
<line x1="63.50" y1="372.40" x2="63.50" y2="377.70" stroke="#1a1a1a" stroke-width="1"/>
<line x1="58.20" y1="372.40" x2="68.80" y2="372.40" stroke="#1a1a1a" stroke-width="1"/>
<rect x="54.20" y="377.70" width="18.60" height="6.90" fill="#36b72e" stroke="#1a1a1a" stroke-width="0.4"/>
<line x1="54.20" y1="378.60" x2="72.80" y2="378.60" stroke="#1a1a1a" stroke-width="1"/>
<rect x="53.55" y="378.95" width="3.7" height="3.7" rx="0.8" fill="#111"/>
<rect x="53.55" y="381.75" width="3.7" height="3.7" rx="0.8" fill="#111"/>
<rect x="64.45" y="381.75" width="3.7" height="3.7" rx="0.8" fill="#111"/>
<rect x="68.65" y="380.95" width="3.7" height="3.7" rx="0.8" fill="#111"/>
<rect x="59.15" y="382.15" width="3.7" height="3.7" rx="0.8" fill="#111"/>
<line x1="94.40" y1="324.00" x2="94.40" y2="349.30" stroke="#1a1a1a" stroke-width="1"/>
<line x1="89.00" y1="324.00" x2="99.80" y2="324.00" stroke="#1a1a1a" stroke-width="1"/>
<line x1="94.40" y1="380.10" x2="94.40" y2="384.80" stroke="#1a1a1a" stroke-width="1"/>
<line x1="89.00" y1="384.80" x2="99.80" y2="384.80" stroke="#1a1a1a" stroke-width="1"/>
<rect x="85.25" y="349.30" width="18.30" height="30.80" fill="#ca072c" stroke="#1a1a1a" stroke-width="0.4"/>
<line x1="85.25" y1="369.30" x2="103.55" y2="369.30" stroke="#1a1a1a" stroke-width="1"/>
<rect x="92.55" y="340.55" width="3.7" height="3.7" rx="0.8" fill="#111"/>
<rect x="92.55" y="344.35" width="3.7" height="3.7" rx="0.8" fill="#111"/>
<rect x="92.55" y="351.65" width="3.7" height="3.7" rx="0.8" fill="#111"/>
<rect x="92.55" y="357.05" width="3.7" height="3.7" rx="0.8" fill="#111"/>
<rect x="92.55" y="362.85" width="3.7" height="3.7" rx="0.8" fill="#111"/>
<rect x="95.15" y="371.85" width="3.7" height="3.7" rx="0.8" fill="#111"/>
<rect x="89.85" y="374.05" width="3.7" height="3.7" rx="0.8" fill="#111"/>
<rect x="90.35" y="377.15" width="3.7" height="3.7" rx="0.8" fill="#111"/>
<rect x="84.05" y="382.35" width="3.7" height="3.7" rx="0.8" fill="#111"/>
<rect x="88.75" y="382.35" width="3.7" height="3.7" rx="0.8" fill="#111"/>
<rect x="94.15" y="382.35" width="3.7" height="3.7" rx="0.8" fill="#111"/>
<rect x="97.85" y="382.35" width="3.7" height="3.7" rx="0.8" fill="#111"/>
<rect x="101.05" y="380.35" width="3.7" height="3.7" rx="0.8" fill="#111"/>
<line x1="125.00" y1="318.20" x2="125.00" y2="353.80" stroke="#1a1a1a" stroke-width="1"/>
<line x1="119.60" y1="318.20" x2="130.40" y2="318.20" stroke="#1a1a1a" stroke-width="1"/>
<line x1="119.60" y1="353.80" x2="130.40" y2="353.80" stroke="#1a1a1a" stroke-width="1"/>
<line x1="116.10" y1="335.40" x2="133.90" y2="335.40" stroke="#0d1826" stroke-width="1.8"/>
<circle cx="63.60" cy="372.40" r="2.0" fill="#111"/>
<line x1="63.50" y1="372.40" x2="63.50" y2="384.60" stroke="#1a1a1a" stroke-width="1"/>
<circle cx="94.30" cy="324.00" r="2.0" fill="#111"/>
<rect x="123.90" y="317.50" width="2.2" height="2.2" rx="0.8" fill="#111"/>
<rect x="123.90" y="352.50" width="2.2" height="2.2" rx="0.8" fill="#111"/>
<line x1="199.00" y1="271.00" x2="199.00" y2="385.45" stroke="#1a1a1a" stroke-width="1"/>
<line x1="196.20" y1="384.95" x2="199.00" y2="384.95" stroke="#1a1a1a" stroke-width="0.9"/>
<text x="192.30" y="387.25" font-size="7.1" text-anchor="end" font-weight="normal" fill="#262626" stroke="#262626" stroke-width="0.25" textLength="5.15" lengthAdjust="spacingAndGlyphs" >0</text>
<line x1="196.20" y1="362.67" x2="199.00" y2="362.67" stroke="#1a1a1a" stroke-width="0.9"/>
<text x="192.30" y="364.97" font-size="7.1" text-anchor="end" font-weight="normal" fill="#262626" stroke="#262626" stroke-width="0.25" textLength="15.450000000000001" lengthAdjust="spacingAndGlyphs" >100</text>
<line x1="196.20" y1="340.39" x2="199.00" y2="340.39" stroke="#1a1a1a" stroke-width="0.9"/>
<text x="192.30" y="342.69" font-size="7.1" text-anchor="end" font-weight="normal" fill="#262626" stroke="#262626" stroke-width="0.25" textLength="15.450000000000001" lengthAdjust="spacingAndGlyphs" >200</text>
<line x1="196.20" y1="318.11" x2="199.00" y2="318.11" stroke="#1a1a1a" stroke-width="0.9"/>
<text x="192.30" y="320.41" font-size="7.1" text-anchor="end" font-weight="normal" fill="#262626" stroke="#262626" stroke-width="0.25" textLength="15.450000000000001" lengthAdjust="spacingAndGlyphs" >300</text>
<line x1="196.20" y1="295.83" x2="199.00" y2="295.83" stroke="#1a1a1a" stroke-width="0.9"/>
<text x="192.30" y="298.13" font-size="7.1" text-anchor="end" font-weight="normal" fill="#262626" stroke="#262626" stroke-width="0.25" textLength="15.450000000000001" lengthAdjust="spacingAndGlyphs" >400</text>
<line x1="196.20" y1="273.55" x2="199.00" y2="273.55" stroke="#1a1a1a" stroke-width="0.9"/>
<text x="192.30" y="275.85" font-size="7.1" text-anchor="end" font-weight="normal" fill="#262626" stroke="#262626" stroke-width="0.25" textLength="15.450000000000001" lengthAdjust="spacingAndGlyphs" >500</text>
<line x1="198.50" y1="384.95" x2="291.60" y2="384.95" stroke="#1a1a1a" stroke-width="1"/>
<line x1="217.30" y1="384.95" x2="217.30" y2="387.55" stroke="#1a1a1a" stroke-width="0.9"/>
<text x="217.30" y="398.95" font-size="8.3" text-anchor="middle" font-weight="normal" fill="#262626" stroke="#262626" stroke-width="0.3" textLength="11.6" lengthAdjust="spacingAndGlyphs" >G0</text>
<line x1="245.00" y1="384.95" x2="245.00" y2="387.55" stroke="#1a1a1a" stroke-width="0.9"/>
<text x="245.00" y="398.95" font-size="8.3" text-anchor="middle" font-weight="normal" fill="#262626" stroke="#262626" stroke-width="0.3" textLength="11.6" lengthAdjust="spacingAndGlyphs" >G1</text>
<line x1="272.50" y1="384.95" x2="272.50" y2="387.55" stroke="#1a1a1a" stroke-width="0.9"/>
<text x="272.50" y="398.95" font-size="8.3" text-anchor="middle" font-weight="normal" fill="#262626" stroke="#262626" stroke-width="0.3" textLength="11.6" lengthAdjust="spacingAndGlyphs" >G2</text>
<text x="245.10" y="412.70" font-size="8.9" text-anchor="middle" font-weight="normal" fill="#262626" stroke="#262626" stroke-width="0.5" textLength="38.6" lengthAdjust="spacingAndGlyphs" >CRS grading</text>
<text transform="translate(170.70,327.90) rotate(-90)" x="0" y="0" font-size="8.6" text-anchor="middle" fill="#262626" stroke="#262626" stroke-width="0.4" textLength="87.4" lengthAdjust="spacingAndGlyphs">Cytokine (pg/mL of plasma)</text>
<text x="242.20" y="236.00" font-size="10.1" text-anchor="middle" font-weight="normal" fill="#262626" stroke="#262626" stroke-width="0.18" textLength="15.9" lengthAdjust="spacingAndGlyphs" >IL-6</text>
<polyline points="217.00,255.30 217.00,249.20 272.60,249.20 272.60,255.30" fill="none" stroke="#1a1a1a" stroke-width="1"/>
<circle cx="241.55" cy="244.60" r="1.2" fill="#1a1a1a"/>
<circle cx="244.80" cy="244.60" r="1.2" fill="#1a1a1a"/>
<circle cx="248.05" cy="244.60" r="1.2" fill="#1a1a1a"/>
<polyline points="244.60,278.40 244.60,272.60 272.50,272.60 272.50,278.40" fill="none" stroke="#1a1a1a" stroke-width="1"/>
<circle cx="256.93" cy="268.00" r="1.2" fill="#1a1a1a"/>
<circle cx="260.18" cy="268.00" r="1.2" fill="#1a1a1a"/>
<line x1="217.30" y1="378.90" x2="217.30" y2="381.60" stroke="#1a1a1a" stroke-width="1"/>
<line x1="212.20" y1="378.90" x2="222.40" y2="378.90" stroke="#1a1a1a" stroke-width="1"/>
<rect x="211.30" y="381.60" width="12.00" height="3.00" fill="#36b72e" stroke="#1a1a1a" stroke-width="0.4"/>
<circle cx="217.30" cy="378.90" r="2.45" fill="#111"/>
<circle cx="210.20" cy="383.90" r="2.45" fill="#111"/>
<circle cx="214.40" cy="384.30" r="2.45" fill="#111"/>
<circle cx="218.60" cy="383.90" r="2.45" fill="#111"/>
<circle cx="224.40" cy="383.60" r="2.45" fill="#111"/>
<line x1="245.00" y1="285.90" x2="245.00" y2="339.90" stroke="#1a1a1a" stroke-width="1"/>
<line x1="239.80" y1="285.90" x2="250.20" y2="285.90" stroke="#1a1a1a" stroke-width="1"/>
<line x1="245.00" y1="379.00" x2="245.00" y2="384.50" stroke="#1a1a1a" stroke-width="1"/>
<line x1="239.80" y1="384.50" x2="250.20" y2="384.50" stroke="#1a1a1a" stroke-width="1"/>
<rect x="237.15" y="339.90" width="15.70" height="39.10" fill="#ca072c" stroke="#1a1a1a" stroke-width="0.4"/>
<line x1="237.15" y1="370.40" x2="252.85" y2="370.40" stroke="#1a1a1a" stroke-width="1"/>
<circle cx="244.60" cy="285.90" r="2.45" fill="#111"/>
<circle cx="237.60" cy="336.40" r="2.45" fill="#111"/>
<circle cx="245.10" cy="337.10" r="2.45" fill="#111"/>
<circle cx="245.10" cy="344.90" r="2.45" fill="#111"/>
<circle cx="245.10" cy="360.10" r="2.45" fill="#111"/>
<circle cx="245.10" cy="368.60" r="2.45" fill="#111"/>
<circle cx="238.00" cy="375.70" r="2.45" fill="#111"/>
<circle cx="252.50" cy="372.30" r="2.45" fill="#111"/>
<circle cx="252.50" cy="376.10" r="2.45" fill="#111"/>
<circle cx="252.20" cy="380.40" r="2.45" fill="#111"/>
<circle cx="245.10" cy="380.40" r="2.45" fill="#111"/>
<circle cx="237.60" cy="383.90" r="2.45" fill="#111"/>
<circle cx="272.50" cy="288.60" r="2.45" fill="#111"/>
<circle cx="272.50" cy="292.90" r="2.45" fill="#111"/>
<line x1="264.30" y1="290.70" x2="280.70" y2="290.70" stroke="#0d1826" stroke-width="1.6"/>
<line x1="266.70" y1="289.25" x2="278.30" y2="289.25" stroke="#1a1a1a" stroke-width="1"/>
<line x1="266.70" y1="292.10" x2="278.30" y2="292.10" stroke="#1a1a1a" stroke-width="1"/>
<line x1="339.50" y1="270.20" x2="339.50" y2="385.65" stroke="#1a1a1a" stroke-width="1"/>
<line x1="336.70" y1="385.15" x2="339.50" y2="385.15" stroke="#1a1a1a" stroke-width="0.9"/>
<text x="333.30" y="387.45" font-size="7.1" text-anchor="end" font-weight="normal" fill="#262626" stroke="#262626" stroke-width="0.25" textLength="5.15" lengthAdjust="spacingAndGlyphs" >0</text>
<line x1="336.70" y1="357.25" x2="339.50" y2="357.25" stroke="#1a1a1a" stroke-width="0.9"/>
<text x="333.30" y="359.55" font-size="7.1" text-anchor="end" font-weight="normal" fill="#262626" stroke="#262626" stroke-width="0.25" textLength="10.3" lengthAdjust="spacingAndGlyphs" >10</text>
<line x1="336.70" y1="329.35" x2="339.50" y2="329.35" stroke="#1a1a1a" stroke-width="0.9"/>
<text x="333.30" y="331.65" font-size="7.1" text-anchor="end" font-weight="normal" fill="#262626" stroke="#262626" stroke-width="0.25" textLength="10.3" lengthAdjust="spacingAndGlyphs" >20</text>
<line x1="336.70" y1="301.45" x2="339.50" y2="301.45" stroke="#1a1a1a" stroke-width="0.9"/>
<text x="333.30" y="303.75" font-size="7.1" text-anchor="end" font-weight="normal" fill="#262626" stroke="#262626" stroke-width="0.25" textLength="10.3" lengthAdjust="spacingAndGlyphs" >30</text>
<line x1="336.70" y1="273.55" x2="339.50" y2="273.55" stroke="#1a1a1a" stroke-width="0.9"/>
<text x="333.30" y="275.85" font-size="7.1" text-anchor="end" font-weight="normal" fill="#262626" stroke="#262626" stroke-width="0.25" textLength="10.3" lengthAdjust="spacingAndGlyphs" >40</text>
<line x1="339.00" y1="385.15" x2="427.50" y2="385.15" stroke="#1a1a1a" stroke-width="1"/>
<line x1="356.40" y1="385.15" x2="356.40" y2="387.75" stroke="#1a1a1a" stroke-width="0.9"/>
<text x="356.40" y="399.15" font-size="8.3" text-anchor="middle" font-weight="normal" fill="#262626" stroke="#262626" stroke-width="0.3" textLength="11.6" lengthAdjust="spacingAndGlyphs" >G0</text>
<line x1="382.80" y1="385.15" x2="382.80" y2="387.75" stroke="#1a1a1a" stroke-width="0.9"/>
<text x="382.80" y="399.15" font-size="8.3" text-anchor="middle" font-weight="normal" fill="#262626" stroke="#262626" stroke-width="0.3" textLength="11.6" lengthAdjust="spacingAndGlyphs" >G1</text>
<line x1="409.30" y1="385.15" x2="409.30" y2="387.75" stroke="#1a1a1a" stroke-width="0.9"/>
<text x="409.30" y="399.15" font-size="8.3" text-anchor="middle" font-weight="normal" fill="#262626" stroke="#262626" stroke-width="0.3" textLength="11.6" lengthAdjust="spacingAndGlyphs" >G2</text>
<text x="383.65" y="412.90" font-size="8.9" text-anchor="middle" font-weight="normal" fill="#262626" stroke="#262626" stroke-width="0.5" textLength="38.6" lengthAdjust="spacingAndGlyphs" >CRS grading</text>
<text transform="translate(316.30,327.80) rotate(-90)" x="0" y="0" font-size="8.6" text-anchor="middle" fill="#262626" stroke="#262626" stroke-width="0.4" textLength="87.0" lengthAdjust="spacingAndGlyphs">Cytokine (pg/mL of plasma)</text>
<text x="383.20" y="263.90" font-size="10.1" text-anchor="middle" font-weight="normal" fill="#262626" stroke="#262626" stroke-width="0.18" textLength="28" lengthAdjust="spacingAndGlyphs" >TNF-<tspan font-size="9">&#945;</tspan></text>
<line x1="356.85" y1="330.90" x2="356.85" y2="340.70" stroke="#1a1a1a" stroke-width="1"/>
<line x1="352.05" y1="330.90" x2="361.65" y2="330.90" stroke="#1a1a1a" stroke-width="1"/>
<line x1="356.85" y1="359.60" x2="356.85" y2="364.90" stroke="#1a1a1a" stroke-width="1"/>
<line x1="352.05" y1="364.90" x2="361.65" y2="364.90" stroke="#1a1a1a" stroke-width="1"/>
<rect x="349.00" y="340.70" width="15.70" height="18.90" fill="#36b72e" stroke="#1a1a1a" stroke-width="0.4"/>
<line x1="349.00" y1="359.60" x2="364.70" y2="359.60" stroke="#1a1a1a" stroke-width="1"/>
<circle cx="356.50" cy="330.90" r="2.45" fill="#111"/>
<circle cx="356.50" cy="347.90" r="2.45" fill="#111"/>
<circle cx="352.20" cy="359.60" r="2.45" fill="#111"/>
<circle cx="360.70" cy="359.60" r="2.45" fill="#111"/>
<circle cx="356.50" cy="364.90" r="2.45" fill="#111"/>
<line x1="383.10" y1="296.90" x2="383.10" y2="316.20" stroke="#1a1a1a" stroke-width="1"/>
<line x1="377.90" y1="296.90" x2="388.30" y2="296.90" stroke="#1a1a1a" stroke-width="1"/>
<line x1="383.10" y1="347.70" x2="383.10" y2="348.50" stroke="#1a1a1a" stroke-width="1"/>
<line x1="377.90" y1="348.50" x2="388.30" y2="348.50" stroke="#1a1a1a" stroke-width="1"/>
<rect x="375.40" y="316.20" width="15.40" height="31.50" fill="#ca072c" stroke="#1a1a1a" stroke-width="0.4"/>
<line x1="375.40" y1="335.40" x2="390.80" y2="335.40" stroke="#1a1a1a" stroke-width="1"/>
<circle cx="383.20" cy="296.90" r="2.45" fill="#111"/>
<circle cx="383.20" cy="308.90" r="2.45" fill="#111"/>
<circle cx="380.80" cy="314.30" r="2.45" fill="#111"/>
<circle cx="385.40" cy="313.80" r="2.45" fill="#111"/>
<circle cx="385.40" cy="330.30" r="2.45" fill="#111"/>
<circle cx="381.10" cy="331.80" r="2.45" fill="#111"/>
<circle cx="383.10" cy="339.20" r="2.45" fill="#111"/>
<circle cx="382.60" cy="343.00" r="2.45" fill="#111"/>
<circle cx="390.00" cy="346.90" r="2.45" fill="#111"/>
<circle cx="384.60" cy="348.20" r="2.45" fill="#111"/>
<circle cx="376.20" cy="349.70" r="2.45" fill="#111"/>
<circle cx="383.60" cy="335.80" r="2.45" fill="#111"/>
<circle cx="379.60" cy="345.30" r="2.45" fill="#111"/>
<line x1="409.50" y1="317.30" x2="409.50" y2="339.10" stroke="#1a1a1a" stroke-width="1"/>
<line x1="404.15" y1="317.30" x2="414.85" y2="317.30" stroke="#1a1a1a" stroke-width="1"/>
<line x1="404.15" y1="339.10" x2="414.85" y2="339.10" stroke="#1a1a1a" stroke-width="1"/>
<line x1="401.50" y1="328.20" x2="417.50" y2="328.20" stroke="#0d1826" stroke-width="1.8"/>
<circle cx="409.50" cy="317.30" r="2.45" fill="#111"/>
<circle cx="409.50" cy="339.10" r="2.45" fill="#111"/>
<rect x="0" y="0" width="520" height="1" fill="#3c3c3c"/>
<rect x="0" y="0" width="1" height="423" fill="#3c3c3c"/>
<rect x="519" y="0" width="1" height="423" fill="#3c3c3c"/>
<rect x="0" y="421.5" width="520" height="1.5" fill="#3c3c3c"/>
</svg>
</body></html>
